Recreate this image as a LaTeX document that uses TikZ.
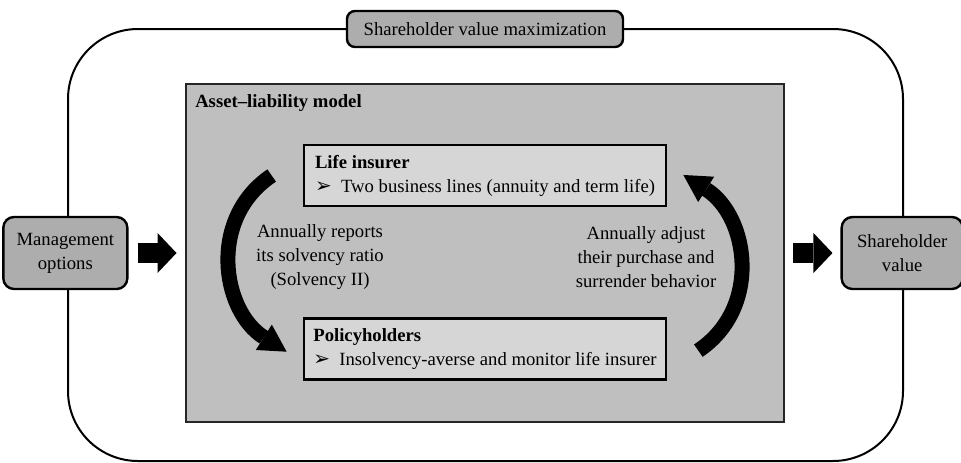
\documentclass[tikz,border=0pt]{standalone}
\usepackage{fontspec}
\setmainfont{Liberation Serif}
\newfontfamily\symfont{DejaVu Sans}
\usepackage{tikz}
\usetikzlibrary{shapes.geometric, arrows.meta, positioning}
\definecolor{roundgray}{gray}{0.68}
\definecolor{modelgray}{gray}{0.75}
\definecolor{agentgray}{gray}{0.84}
\tikzstyle{outerframe} = [draw=black, line width=1.5pt, rounded corners=52.5pt]
\tikzstyle{roundbox} = [rectangle, rounded corners=8pt, minimum height=54pt, text centered, align=center, draw=black, line width=1.8pt, fill=roundgray]
\tikzstyle{model} = [rectangle, minimum width=448.5pt, minimum height=253.5pt, draw=black!85, line width=2.2pt, fill=modelgray]
\tikzstyle{agent} = [rectangle, minimum width=271.5pt, minimum height=45.75pt, align=left, draw=black, line width=2pt, fill=agentgray]
\tikzstyle{sidetext} = [align=center]
\tikzstyle{blockarrow} = [line width=15pt, -{Triangle[length=14.25pt, width=30pt, line width=0pt]}]
\tikzstyle{cyclearrow} = [line width=11.25pt, -{Triangle[length=20.25pt, width=22.5pt, line width=0pt]}]
\newcommand{\pointer}{{\symfont\fontsize{15}{18}\selectfont ➢}\hspace{7pt}}

\begin{document}
\begin{tikzpicture}[x=0.75pt, y=-0.75pt, font=\fontsize{14}{18}\selectfont]
\useasboundingbox (0,0) rectangle (961,462);

% Outer frame
\draw [outerframe] (68,29) rectangle (903,461);

% Nodes
\node (goal) [roundbox, rounded corners=6pt, minimum width=207pt, minimum height=27pt] at (485,29) {Shareholder value maximization};
\node (model) [model] at (485,253) {};
\node (title) [anchor=base west, inner sep=0pt, font=\fontsize{14}{18}\selectfont\bfseries] at (195,107) {Asset--liability model};
\node (options) [roundbox, minimum width=93pt, left=42pt of model] {Management\\options};
\node (value) [roundbox, minimum width=90.75pt, right=41.25pt of model] {Shareholder\\value};
\node (insurer) [agent] at (485,175.5) {\textbf{Life insurer}\\\pointer Two business lines (annuity and term life)};
\node (holders) [agent, below=82.5pt of insurer] {\textbf{Policyholders}\\\pointer Insolvency-averse and monitor life insurer};
\node (reports) [sidetext] at (320,257) {Annually reports\\its solvency ratio\\(Solvency II)};
\node (adjust) [sidetext] at (646,257) {Annually adjust\\their purchase and\\surrender behavior};

% Arrows
\draw [blockarrow, shorten <=6.75pt, shorten >=6pt] (options) -- (model);
\draw [blockarrow, shorten <=6pt, shorten >=6pt] (model) -- (value);
\draw [cyclearrow] ([xshift=-23.25pt]insurer.west) .. controls +(-64,43) and +(-65,-41) .. ([xshift=-12pt, yshift=-1.9pt]holders.west);
\draw [cyclearrow] ([xshift=23.25pt, yshift=-1.1pt]holders.east) .. controls +(64,-43) and +(65,41) .. ([xshift=12pt, yshift=0.4pt]insurer.east);

\end{tikzpicture}
\end{document}
